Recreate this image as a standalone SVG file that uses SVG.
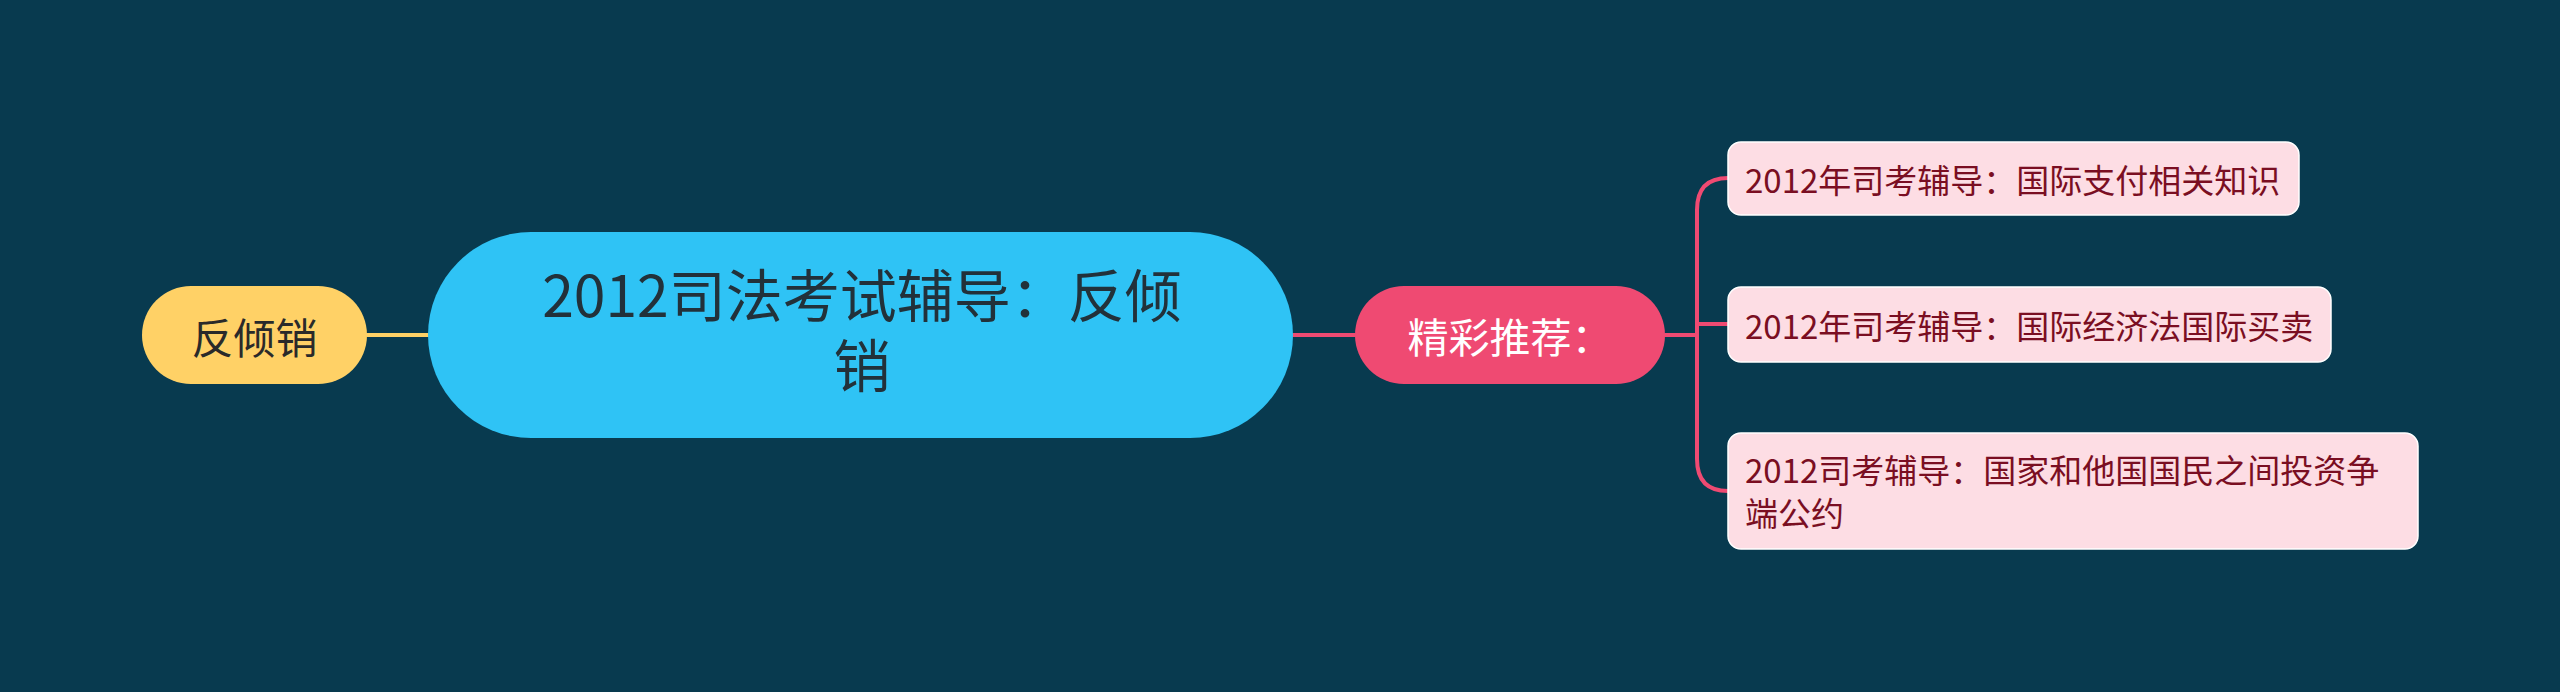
<svg xmlns="http://www.w3.org/2000/svg" width="2560" height="692" viewBox="0 0 2560 692">
<style>
text{font-family:"Noto Sans CJK SC","Noto Sans",sans-serif;}
.c{fill:none;stroke-width:4;stroke-linecap:round;}
.y{stroke:#FFD166;}
.p{stroke:#EF4A72;}
.child rect{fill:#FDDDE4;stroke:#FFFFFF;stroke-width:1.5;}
.child text{fill:#7A0E22;font-size:33px;}
</style>
<rect width="2560" height="692" fill="#083A4F"/>
<g id="connectors">
<path class="c y" d="M367 335H428"/>
<path class="c p" d="M1293 335H1355"/>
<path class="c p" d="M1665 335H1697"/>
<path class="c p" d="M1697 335V210Q1697 178 1728 178"/>
<path class="c p" d="M1697 324H1728"/>
<path class="c p" d="M1697 335V459Q1697 491 1728 491"/>
</g>
<g id="node-left">
<rect x="142" y="286" width="225" height="98" rx="49" fill="#FFD166"/>
<text x="254.5" y="335" font-size="42" fill="#2A2A2A" text-anchor="middle" dominant-baseline="central">反倾销</text>
</g>
<g id="node-root">
<rect x="428" y="232" width="865" height="206" rx="103" fill="#2FC3F5"/>
<text font-size="57" fill="#22313A" text-anchor="middle"><tspan x="862" y="317">2012司法考试辅导：反倾</tspan><tspan x="862" y="387">销</tspan></text>
</g>
<g id="node-rec">
<rect x="1355" y="286" width="310" height="98" rx="49" fill="#EF4A72"/>
<text x="1510" y="335" font-size="41" fill="#FFFFFF" text-anchor="middle" dominant-baseline="central">精彩推荐：</text>
</g>
<g id="child-1" class="child">
<rect x="1728" y="142" width="571" height="73" rx="13"/>
<text x="1745" y="193">2012年司考辅导：国际支付相关知识</text>
</g>
<g id="child-2" class="child">
<rect x="1728" y="287" width="603" height="75" rx="13"/>
<text x="1745" y="339">2012年司考辅导：国际经济法国际买卖</text>
</g>
<g id="child-3" class="child">
<rect x="1728" y="433" width="690" height="116" rx="13"/>
<text><tspan x="1745" y="483">2012司考辅导：国家和他国国民之间投资争</tspan><tspan x="1745" y="526">端公约</tspan></text>
</g>
</svg>
